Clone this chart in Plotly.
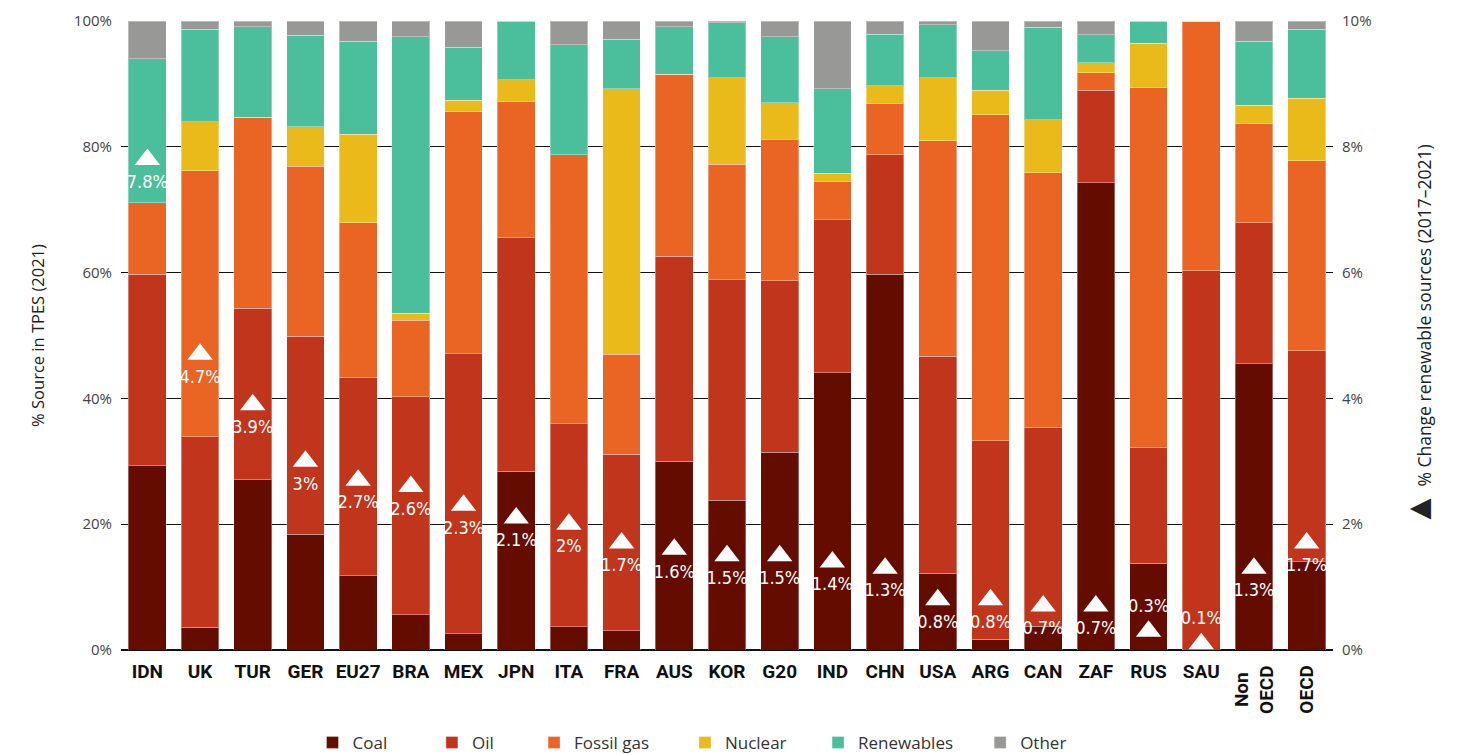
import plotly.graph_objects as go

categories = ["IDN", "UK", "TUR", "GER", "EU27", "BRA", "MEX", "JPN", "ITA", "FRA", "AUS", "KOR",
              "G20", "IND", "CHN", "USA", "ARG", "CAN", "ZAF", "RUS", "SAU", "Non OECD", "OECD"]
coal = [29.3, 3.6, 27.1, 18.4, 11.8, 5.6, 2.6, 28.4, 3.7, 3.1, 30.0, 23.8, 31.4, 44.1, 59.7, 12.2, 1.7, 3.8, 74.3, 13.8, 0, 45.5, 14.0]
oil = [30.4, 30.3, 27.2, 31.5, 31.6, 34.7, 44.5, 37.2, 32.3, 28.0, 32.6, 35.1, 27.3, 24.3, 19.0, 34.5, 31.6, 31.6, 14.7, 18.4, 60.3, 22.4, 33.6]
gas = [11.4, 42.3, 30.4, 27.0, 24.5, 12.1, 38.5, 21.6, 42.7, 15.9, 28.9, 18.3, 22.5, 6.1, 8.2, 34.3, 51.8, 40.5, 2.8, 57.2, 39.7, 15.8, 30.2]
nuclear = [0, 7.8, 0, 6.3, 14.1, 1.1, 1.8, 3.5, 0, 42.2, 0, 13.8, 5.8, 1.3, 2.8, 10.0, 3.9, 8.4, 1.6, 7.1, 0, 2.9, 9.9]
renewables = [22.9, 14.7, 14.4, 14.5, 14.8, 44.0, 8.4, 9.3, 17.5, 7.9, 7.6, 8.7, 10.5, 13.4, 8.2, 8.4, 6.3, 14.7, 4.4, 3.5, 0, 10.2, 11.0]
other = [6.0, 1.3, 0.9, 2.3, 3.2, 2.5, 4.2, 0, 3.8, 2.9, 0.9, 0.3, 2.5, 10.8, 2.1, 0.6, 4.7, 1.0, 2.2, 0, 0, 3.2, 1.3]
change_renewables = [7.8, 4.7, 3.9, 3.0, 2.7, 2.6, 2.3, 2.1, 2.0, 1.7, 1.6, 1.5, 1.5, 1.4, 1.3, 0.8, 0.8, 0.7, 0.7, 0.3, 0.1, 1.3, 1.7]

left_ticks = [0, 20, 40, 60, 80, 100]
right_ticks = [0, 2, 4, 6, 8, 10]

series = [
    ("Coal", coal, "#650C00", 9),
    ("Oil", oil, "#C1351D", 8),
    ("Fossil gas", gas, "#EA6424", 7),
    ("Nuclear", nuclear, "#E9BA1A", 6),
    ("Renewables", renewables, "#4BBE9C", 5),
    ("Other", other, "#989996", 0),
]

NBSP = "\u00a0"
fig = go.Figure()
for name, vals, color, pad in series:
    fig.add_trace(go.Bar(
        x=categories, y=vals, name=name + NBSP * pad,
        marker=dict(color=color, line=dict(color="rgba(255,255,255,0.35)", width=1)),
        yaxis="y",
    ))

label_pos = ["top center" if c in ("RUS", "SAU") else "bottom center" for c in categories]
fig.add_trace(go.Scatter(
    x=categories, y=change_renewables, yaxis="y2",
    mode="markers+text",
    marker=dict(symbol="triangle-up", size=22, color="white", line=dict(width=0)),
    text=[f"{v:g}%" for v in change_renewables],
    textposition=label_pos,
    textfont=dict(color="white", size=18, family="DejaVu Sans Condensed, sans-serif"),
    showlegend=False, cliponaxis=False,
))

tick_text = [c if c not in ("Non OECD", "OECD") else "" for c in categories]

# page has an 8px body margin: figure is sized / offset to compensate
fig.update_layout(
    width=1453, height=746,
    barmode="stack", bargap=0.284,
    paper_bgcolor="white", plot_bgcolor="white",
    margin=dict(l=113, r=128, t=13, b=103.5, autoexpand=False),
    font=dict(family="Open Sans, sans-serif", color="#333333"),
    xaxis=dict(
        range=[-0.5, len(categories) - 0.5],
        tickvals=categories, ticktext=tick_text,
        tickfont=dict(family="Roboto, sans-serif", size=19, color="#111111", weight="bold"),
        showline=False, ticks="", ticklabelstandoff=8,
    ),
    yaxis=dict(
        range=[0, 100], tickvals=left_ticks, ticktext=[f"{t}%" for t in left_ticks],
        showgrid=True, gridcolor="#111111", gridwidth=1,
        zeroline=True, zerolinecolor="#111111", zerolinewidth=2,
        tickfont=dict(size=15, color="#444444"),
        ticklabelstandoff=8,
        title=dict(text="% Source in TPES (2021)", font=dict(size=16.5, color="#222222"), standoff=25),
    ),
    yaxis2=dict(
        range=[0, 10], tickvals=right_ticks, ticktext=[f"{t}%" for t in right_ticks],
        overlaying="y", side="right", showgrid=False, zeroline=False,
        tickfont=dict(size=15, color="#444444"),
        ticklabelstandoff=8,
        title=dict(text="<span style='font-size:36px'>▲</span> % Change renewable sources (2017–2021)",
                   font=dict(size=17.5, color="#222222"), standoff=48),
    ),
    legend=dict(orientation="h", x=0.158, xanchor="left", y=-0.119, yanchor="top",
                font=dict(size=17, color="#333333"), traceorder="normal", bgcolor="rgba(0,0,0,0)"),
)

for cat, txt in [("Non OECD", "<b>Non<br>OECD</b>"), ("OECD", "<b>OECD</b>")]:
    fig.add_annotation(
        x=cat, xref="x", y=-0.062, yref="paper", text=txt, textangle=-90,
        showarrow=False, xanchor="center", yanchor="middle",
        font=dict(family="Roboto, sans-serif", size=19, color="#111111"),
    )

fig.write_html("out.html")
